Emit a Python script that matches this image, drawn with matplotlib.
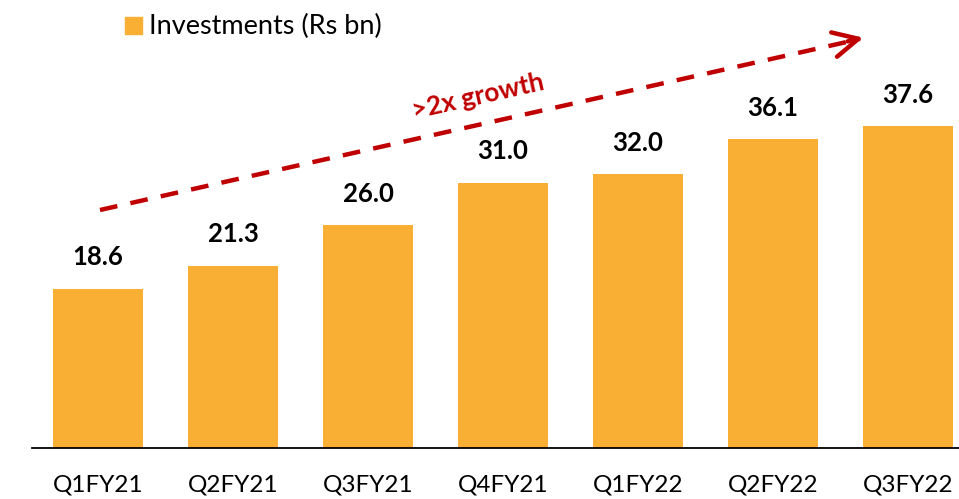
import matplotlib
matplotlib.use("Agg")
import matplotlib.pyplot as plt
from matplotlib.patches import Rectangle

categories = ["Q1FY21", "Q2FY21", "Q3FY21", "Q4FY21", "Q1FY22", "Q2FY22", "Q3FY22"]
investments = [18.6, 21.3, 26.0, 31.0, 32.0, 36.1, 37.6]
legend_label = "Investments (Rs bn)"
growth_label = ">2x growth"

BAR = "#F9AF33"
RED = "#C00000"
plt.rcParams['font.family'] = ['Lato', 'DejaVu Sans']

W, H = 959, 499
fig = plt.figure(figsize=(W/100, H/100), dpi=100)
ax = fig.add_axes([32/W, (H-448)/H, (W-32)/W, 448/H])
x = list(range(len(categories)))
ax.bar(x, investments, width=0.667, color=BAR)
ax.set_xlim(-0.489, 6.378)
ax.set_ylim(0, 448/8.56)
for s in ['top', 'right', 'left']:
    ax.spines[s].set_visible(False)
ax.spines['bottom'].set_linewidth(1.3)
ax.set_yticks([])
ax.set_xticks(x)
ax.set_xticklabels(categories, fontsize=17.5)
ax.tick_params(axis='x', length=0, pad=19)
for xi, v in zip(x, investments):
    ax.annotate(f"{v:.1f}", (xi, v), xytext=(0, 14), textcoords='offset points',
                ha='center', va='bottom', fontsize=18.5, fontweight='bold', color='black')

# legend
fig.patches.append(Rectangle((125/W, 1-34/H), 17/W, 17/H, transform=fig.transFigure,
                             color=BAR, figure=fig))
fig.text(149/W, 1-26/H, legend_label, fontsize=19.5, va='center', ha='left')

# growth arrow (figure pixel coordinates)
def fp(px, py):
    return (px/W, 1-py/H)
x0, y0 = fp(100, 210)
x1, y1 = fp(860, 39)
fig.add_artist(plt.Line2D([x0, x1], [y0, y1], transform=fig.transFigure, color=RED,
                          lw=3.2, linestyle=(0, (4, 3))))
fig.add_artist(matplotlib.patches.FancyArrowPatch(fp(845, 42), fp(866, 37), transform=fig.transFigure,
                                                  arrowstyle='->,head_length=0.9,head_width=0.45',
                                                  color=RED, lw=3.2, mutation_scale=20))
tx, ty = fp(478, 96)
fig.text(tx, ty, growth_label, color=RED, fontsize=18.8, fontweight='bold', rotation=12.7,
         ha='center', va='center', rotation_mode='anchor')

fig.savefig("out.png", dpi=100)
